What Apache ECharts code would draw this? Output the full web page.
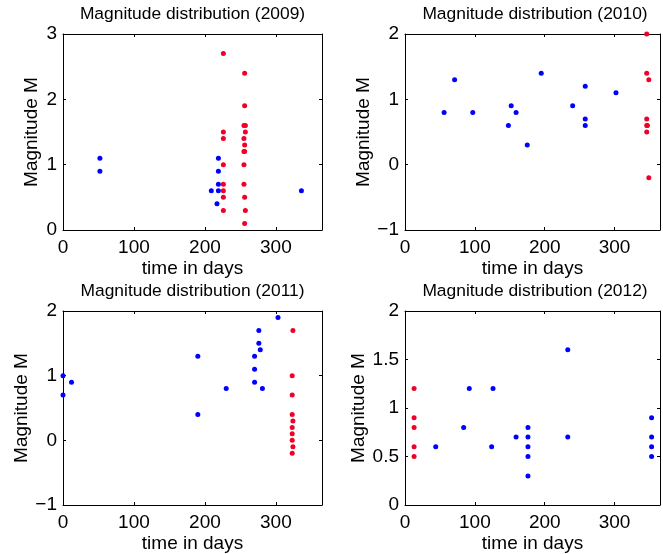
<!DOCTYPE html>
<html>
<head>
<meta charset="utf-8">
<script src="https://cdn.jsdelivr.net/npm/echarts@6/dist/echarts.min.js"></script>
<style>
html,body{margin:0;padding:0;background:#fff;}
#chart{width:663px;height:554px;}
</style>
</head>
<body>
<div id="chart"></div>
<script>
// ---- data (days, magnitude) ----
const titles = ['Magnitude distribution (2009)', 'Magnitude distribution (2010)', 'Magnitude distribution (2011)', 'Magnitude distribution (2012)'];
const xTicks = [0, 100, 200, 300];
const yRanges = [[0, 3, 1], [-1, 2, 1], [-1, 2, 1], [0, 2, 0.5]];

const days2009Blue = [52, 52, 209, 219, 219, 219, 219, 217, 336];
const mag2009Blue  = [1.1, 0.9, 0.6, 1.1, 0.9, 0.7, 0.6, 0.4, 0.6];
const days2009Red  = [226, 226, 226, 226, 226, 226, 226, 226, 256, 256, 255, 257, 257, 255, 256, 255, 256, 255, 255, 256, 257, 256];
const mag2009Red   = [2.7, 1.5, 1.4, 1.0, 0.7, 0.6, 0.5, 0.3, 2.4, 1.9, 1.6, 1.6, 1.5, 1.4, 1.3, 1.2, 1.2, 1.0, 0.7, 0.5, 0.3, 0.1];

const days2010Blue = [56, 71, 97, 148, 152, 159, 175, 195, 240, 258, 258, 258, 302];
const mag2010Blue  = [0.8, 1.3, 0.8, 0.6, 0.9, 0.8, 0.3, 1.4, 0.9, 1.2, 0.7, 0.6, 1.1];
const days2010Red  = [346, 346, 349, 346, 346, 347, 346, 349];
const mag2010Red   = [2.0, 1.4, 1.3, 0.7, 0.6, 0.6, 0.5, -0.2];

const days2011Blue = [0, 0, 12, 190, 190, 230, 270, 270, 270, 276, 276, 278, 281, 303];
const mag2011Blue  = [1.0, 0.7, 0.9, 1.3, 0.4, 0.8, 1.3, 1.1, 0.9, 1.7, 1.5, 1.4, 0.8, 1.9];
const days2011Red  = [324, 323, 323, 323, 324, 323, 323, 323, 324, 323];
const mag2011Red   = [1.7, 1.0, 0.7, 0.4, 0.3, 0.2, 0.1, 0.0, -0.1, -0.2];

const days2012Blue = [44, 84, 92, 124, 126, 159, 176, 176, 176, 176, 176, 233, 233, 353, 353, 353, 353];
const mag2012Blue  = [0.6, 0.8, 1.2, 0.6, 1.2, 0.7, 0.8, 0.7, 0.6, 0.5, 0.3, 1.6, 0.7, 0.9, 0.7, 0.6, 0.5];
const days2012Red  = [13, 13, 13, 13, 13];
const mag2012Red   = [1.2, 0.9, 0.8, 0.6, 0.5];

const blueSets = [[days2009Blue, mag2009Blue], [days2010Blue, mag2010Blue], [days2011Blue, mag2011Blue], [days2012Blue, mag2012Blue]];
const redSets  = [[days2009Red, mag2009Red], [days2010Red, mag2010Red], [days2011Red, mag2011Red], [days2012Red, mag2012Red]];

// ---- layout ----
const FONT = 'Liberation Sans';
const grids = [
  {left: 63, top: 34, width: 259, height: 196},
  {left: 405, top: 34, width: 260, height: 196},
  {left: 63, top: 311, width: 259, height: 196},
  {left: 405, top: 311, width: 260, height: 196}
];
const yNameGaps = [22, 32, 32, 37];
const zip = (a, b) => a.map((v, i) => [v, b[i]]);
const fmtNum = v => String(v).replace('-', '\u2212');

const option = {
  animation: false,
  backgroundColor: '#fff',
  textStyle: {fontFamily: FONT},
  title: [], grid: [], xAxis: [], yAxis: [], series: []
};

grids.forEach((g, i) => {
  option.grid.push(g);
  option.title.push({
    text: titles[i], left: g.left + g.width / 2, top: g.top - 28, textAlign: 'center', padding: 0,
    textStyle: {fontFamily: FONT, fontSize: 17.4, fontWeight: 'normal', color: '#000'}
  });
  const lineStyle = {color: '#000', width: 1};
  const tick = {show: true, inside: true, length: 3, lineStyle: {color: '#000', width: 1}};
  const xBase = {gridIndex: i, type: 'value', min: 0, max: 365, interval: 100, splitLine: {show: false},
    axisLine: {show: true, onZero: false, lineStyle}, axisTick: tick};
  option.xAxis.push(Object.assign({}, xBase, {
    position: 'bottom', name: 'time in days', nameLocation: 'middle', nameGap: 29,
    nameTextStyle: {fontFamily: FONT, fontSize: 19, color: '#000'},
    axisLabel: {fontFamily: FONT, fontSize: 19, color: '#000', margin: 8,
      formatter: v => (xTicks.indexOf(v) >= 0 ? fmtNum(v) : '')}
  }));
  option.xAxis.push(Object.assign({}, xBase, {position: 'top', axisLabel: {show: false}}));
  const [ymin, ymax, yint] = yRanges[i];
  const yBase = {gridIndex: i, type: 'value', min: ymin, max: ymax, interval: yint, splitLine: {show: false},
    axisLine: {show: true, onZero: false, lineStyle}, axisTick: tick};
  option.yAxis.push(Object.assign({}, yBase, {
    position: 'left', name: 'Magnitude M', nameLocation: 'middle', nameGap: yNameGaps[i], nameRotate: 90,
    nameTextStyle: {fontFamily: FONT, fontSize: 19, color: '#000'},
    axisLabel: {fontFamily: FONT, fontSize: 19, color: '#000', margin: 6, formatter: v => fmtNum(v)}
  }));
  option.yAxis.push(Object.assign({}, yBase, {position: 'right', axisLabel: {show: false}}));
  option.series.push({
    type: 'scatter', xAxisIndex: 2 * i, yAxisIndex: 2 * i, symbol: 'circle', symbolSize: 5,
    itemStyle: {color: '#0000ff', opacity: 1}, data: zip(blueSets[i][0], blueSets[i][1]), clip: false
  });
  option.series.push({
    type: 'scatter', xAxisIndex: 2 * i, yAxisIndex: 2 * i, symbol: 'circle', symbolSize: 5,
    itemStyle: {color: '#f00028', opacity: 1}, data: zip(redSets[i][0], redSets[i][1]), clip: false
  });
});

const chart = echarts.init(document.getElementById('chart'), null, {renderer: 'canvas'});
chart.setOption(option);
</script>
</body>
</html>
